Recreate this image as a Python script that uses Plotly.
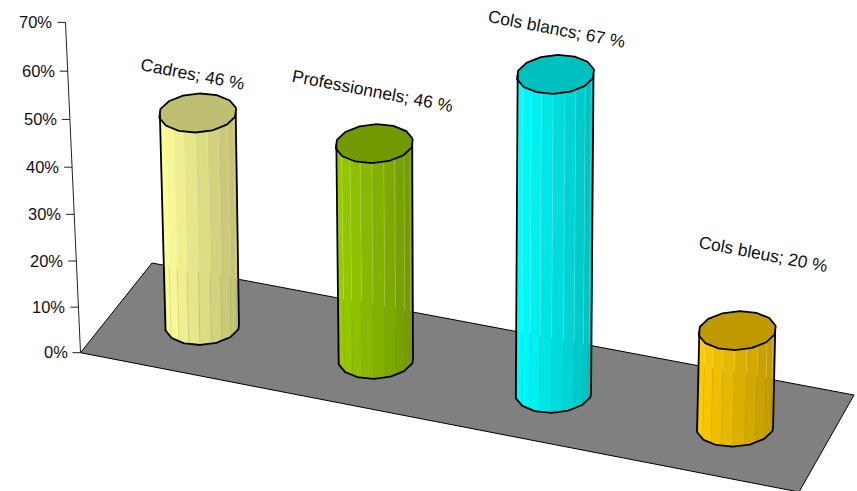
import math
import plotly.graph_objects as go

# Chart data
categories = ["Cadres", "Professionnels", "Cols blancs", "Cols bleus"]
values = [46, 46, 67, 20]
tick_values = [0, 10, 20, 30, 40, 50, 60, 70]
tick_labels = ["0%", "10%", "20%", "30%", "40%", "50%", "60%", "70%"]
base_colors = [(255, 255, 153), (153, 204, 0), (0, 255, 255), (255, 204, 0)]
label_shift = [(-5.5, -39), (-1.5, -53), (1, -45), (26, -77)]

WIDTH, HEIGHT = 857, 491
FONT = "Liberation Sans"
VANISH_X = 480
TILT = 8e-5
RADIUS_TOP = 38.9
RADIUS_Y = 19.5
OUTLINE_SIDES = 14
FACETS_FRONT = 10
SHADE = 0.75


def axis_height(v):
    """Screen height of a value on the slanted percentage axis."""
    return 4.53 * v + 0.0027 * v * v


def axis_point(v):
    h = axis_height(v)
    return 80.5 - 15 * h / 330, 352.7 - h


def floor_point(i):
    """Ground position of the i-th category's cylinder centre."""
    return 202.5 + 171.6 * i + 2.0 * i * i, 325.5 + 33.9 * i


def back_edge_y(x):
    return 263 + (x - 152) * 132 / 702


def top_centre(i, v):
    bx, by = floor_point(i)
    h = v * (4.62 + 0.07 * i)
    return bx + (bx - VANISH_X) * TILT * h, by - h, h


def outline_point(cx, cy, rx, ry, deg):
    """Point at an angle on the many-sided, slightly sheared ellipse of a cylinder."""
    def vertex(k):
        t = math.radians(k * 360 / OUTLINE_SIDES + 13)
        return (cx + rx * math.cos(t) + 2.5 * math.sin(t),
                cy - ry * math.sin(t) - 0.5 * math.cos(t))

    pos = ((deg - 13) % 360) / (360 / OUTLINE_SIDES)
    k = math.floor(pos)
    (xa, ya), (xb, yb) = vertex(k), vertex(k + 1)
    return xa + (xb - xa) * (pos - k), ya + (yb - ya) * (pos - k)


def ring(cx, cy, rx, ry, a0, a1, n):
    pts = [outline_point(cx, cy, rx, ry, a0 + (a1 - a0) * k / n) for k in range(n + 1)]
    return [p[0] for p in pts], [p[1] for p in pts]


def rgb(c, f=1.0):
    return "rgb(%d,%d,%d)" % tuple(round(p * f) for p in c)


fig = go.Figure()


def polygon(xs, ys, fill, line=None, width=0):
    fig.add_trace(go.Scatter(
        x=xs, y=ys, mode="lines", fill="toself", fillcolor=fill,
        line=dict(color=line or fill, width=width if line else 0),
        hoverinfo="skip"))


def path(xs, ys, color="black", width=1.8):
    fig.add_trace(go.Scatter(
        x=xs, y=ys, mode="lines", line=dict(color=color, width=width),
        hoverinfo="skip"))


# Grey floor
polygon([80.5, 152, 854, 799, 80.5], [352.7, 263, 395, 492, 352.7], "#808080", "black", 1)

# Percentage axis with outward ticks
x0, y0 = axis_point(tick_values[0])
x1, y1 = axis_point(tick_values[-1])
path([x0, x1], [y0, y1], "#222222", 1)

annotations = []
for v, lab in zip(tick_values, tick_labels):
    tx, ty = axis_point(v)
    path([tx - 8, tx], [ty, ty], "#222222", 1)
    annotations.append(dict(
        x=tx - 11, y=ty - 0.5, text=lab, showarrow=False, xanchor="right", yanchor="middle",
        font=dict(family=FONT, size=16.5, color="#111111")))

# Faceted cylinders
for i, (name, v, col, shift) in enumerate(zip(categories, values, base_colors, label_shift)):
    bx, by = floor_point(i)
    tx, ty, h = top_centre(i, v)
    rx_bottom = 37.4 + 0.45 * i
    n = FACETS_FRONT
    bot_x, bot_y = ring(bx, by, rx_bottom, RADIUS_Y, 180, 360, n)
    top_x, top_y = ring(tx, ty, RADIUS_TOP, RADIUS_Y, 180, 360, n)

    # Side facets shaded from the full colour on the left to the lid shade on the right
    for k in range(n):
        mid = ((bot_x[k] + bot_x[k + 1]) / 2 - bot_x[0]) / (bot_x[-1] - bot_x[0])
        shade = rgb(col, 1 - (1 - SHADE) * mid)
        polygon([bot_x[k], bot_x[k + 1], top_x[k + 1], top_x[k], bot_x[k]],
                [bot_y[k], bot_y[k + 1], top_y[k + 1], top_y[k], bot_y[k]],
                shade, shade, 0.4)

    # Hairline seams let the background show through between facets
    for k in range(1, n):
        split = back_edge_y(bot_x[k])
        frac = min(max((bot_y[k] - split) / (bot_y[k] - top_y[k]), 0), 1)
        sx = bot_x[k] + (top_x[k] - bot_x[k]) * frac
        sy = bot_y[k] + (top_y[k] - bot_y[k]) * frac
        path([bot_x[k], sx], [bot_y[k], sy], "rgba(128,128,128,0.25)", 0.7)
        path([sx, top_x[k]], [sy, top_y[k]], "rgba(255,255,255,0.28)", 0.7)

    # Lid
    lid_x, lid_y = ring(tx, ty, RADIUS_TOP, RADIUS_Y, 13, 373, OUTLINE_SIDES)
    polygon(lid_x, lid_y, rgb(col, SHADE), "black", 1.8)

    # Silhouette
    low_x, low_y = ring(bx, by, rx_bottom, RADIUS_Y, 180, 360, 28)
    path([top_x[0]] + low_x + [top_x[-1]], [top_y[0]] + low_y + [top_y[-1]])

    annotations.append(dict(
        x=tx + shift[0], y=ty + shift[1], text=f"{name}; {v} %", showarrow=False,
        textangle=10.8, xanchor="center", yanchor="middle",
        font=dict(family=FONT, size=17.4, color="#111111")))

fig.update_layout(
    width=WIDTH, height=HEIGHT, margin=dict(l=0, r=0, t=0, b=0),
    paper_bgcolor="white", plot_bgcolor="white", showlegend=False, hovermode=False,
    xaxis=dict(range=[0, WIDTH], visible=False, fixedrange=True),
    yaxis=dict(range=[HEIGHT, 0], visible=False, fixedrange=True),
    annotations=annotations)

fig.write_html("out.html", config=dict(displayModeBar=False))
